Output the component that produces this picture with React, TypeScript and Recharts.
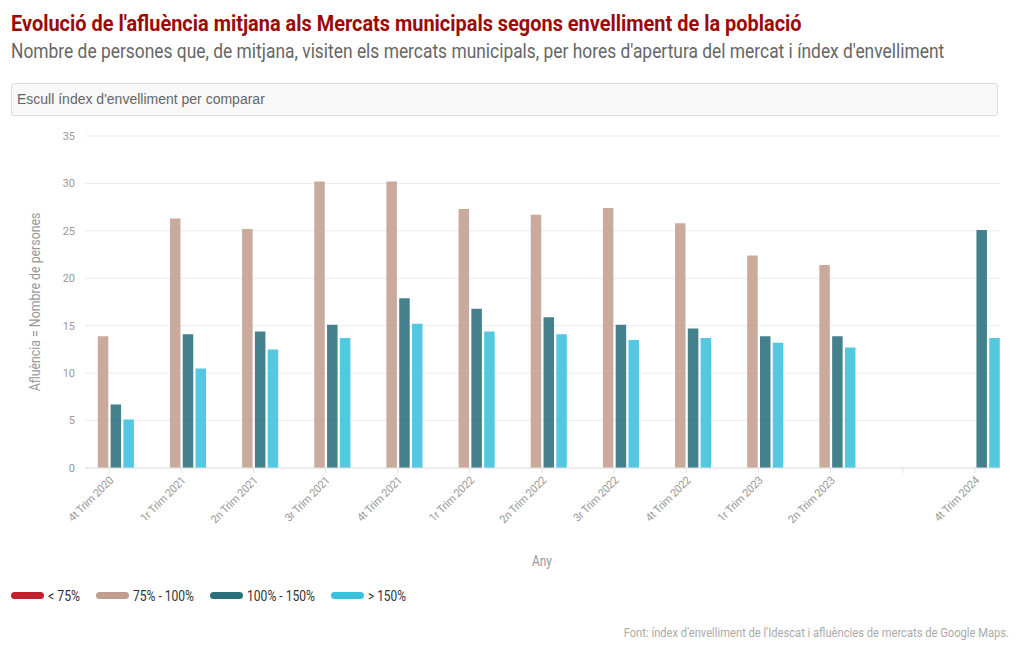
import { useLayoutEffect, useRef, useState } from 'react';
import { BarChart, Bar, XAxis, YAxis, CartesianGrid } from 'recharts';

const quarters = [
  '4t Trim 2020', '1r Trim 2021', '2n Trim 2021', '3r Trim 2021', '4t Trim 2021',
  '1r Trim 2022', '2n Trim 2022', '3r Trim 2022', '4t Trim 2022', '1r Trim 2023',
  '2n Trim 2023', '', '4t Trim 2024',
];
const below75: (number | null)[] = [null, null, null, null, null, null, null, null, null, null, null, null, null];
const from75to100: (number | null)[] = [13.9, 26.3, 25.2, 30.2, 30.2, 27.3, 26.7, 27.4, 25.8, 22.4, 21.4, null, null];
const from100to150: (number | null)[] = [6.7, 14.1, 14.4, 15.1, 17.9, 16.8, 15.9, 15.1, 14.7, 13.9, 13.9, null, 25.1];
const above150: (number | null)[] = [5.1, 10.5, 12.5, 13.7, 15.2, 14.4, 14.1, 13.5, 13.7, 13.2, 12.7, null, 13.7];
const yTicks = [0, 5, 10, 15, 20, 25, 30, 35];

const series = [
  { key: 'below75', name: '< 75%', color: '#c0212a', values: below75 },
  { key: 'from75to100', name: '75% - 100%', color: '#c19e8e', values: from75to100 },
  { key: 'from100to150', name: '100% - 150%', color: '#2b6f7d', values: from100to150 },
  { key: 'above150', name: '> 150%', color: '#3ac1dc', values: above150 },
];

const legendTextWidths = [32, 61, 68, 38];

const data = quarters.map((q, i) => {
  const row: Record<string, string | number | null> = { quarter: q };
  series.forEach((s) => (row[s.key] = s.values[i]));
  return row;
});

const font = 'Roboto, "Noto Sans", sans-serif';

// squeezes a text horizontally to a given width (the reference uses a condensed face)
const FitText = ({ x, y, width, rotate = 0, anchor = 'start', children, ...rest }: any) => {
  const ref = useRef<SVGTextElement>(null);
  const [k, setK] = useState(1);
  useLayoutEffect(() => {
    if (ref.current) {
      const len = ref.current.getComputedTextLength();
      if (len > 0) setK(width / len);
    }
  }, [width, children]);
  return (
    <text ref={ref} x={0} y={0} textAnchor={anchor} transform={`translate(${x},${y}) rotate(${rotate}) scale(${k},1)`} {...rest}>
      {children}
    </text>
  );
};

const XTick = (props: any) => {
  const { x, y, payload } = props;
  return (
    <g transform={`translate(${x + 5},${y + 6})`}>
      <text textAnchor="end" transform="rotate(-45)" fontSize={11} fill="#999" fontFamily={font} letterSpacing={-0.3}>
        {payload.value}
      </text>
    </g>
  );
};

export default function App() {
  let lx = 11;
  const legendItems = series.map((s, i) => {
    const x = lx;
    lx += 33 + 5 + legendTextWidths[i] + 15;
    return (
      <g key={s.key}>
        <rect x={x} y={592} width={33} height={7} rx={3.5} fill={s.color} />
        <FitText x={x + 37} y={601} width={legendTextWidths[i]} fontSize={14} fill="#333">
          {s.name}
        </FitText>
      </g>
    );
  });

  return (
    <div style={{ position: 'absolute', left: 0, top: 0, width: 1020, height: 650, background: '#fff', fontFamily: font }}>
      <div style={{ position: 'absolute', left: 11, top: 83, width: 985, height: 31, border: '1px solid #dcdcdc', borderRadius: 3, background: '#f8f8f8' }}>
        <span style={{ position: 'absolute', left: 5, top: 7, fontSize: 14, color: '#666', fontFamily: '"Liberation Sans", Arial, sans-serif' }}>
          Escull índex d'envelliment per comparar
        </span>
      </div>

      <div style={{ position: 'absolute', left: 0, top: 0 }}>
        <BarChart width={1020} height={650} data={data} margin={{ top: 136, right: 20, left: 45, bottom: 122 }} barSize={10.5} barGap={2.3}>
          <CartesianGrid vertical={false} stroke="#ececec" />
          <XAxis
            dataKey="quarter"
            height={60}
            padding={{ left: -12, right: -11 }}
            interval={0}
            stroke="#e3e3e3"
            tickSize={5}
            tick={<XTick />}
          />
          <YAxis
            width={40}
            domain={[0, 35]}
            ticks={yTicks}
            axisLine={false}
            tickLine={false}
            tickMargin={4}
            tick={{ fontSize: 11, fill: '#999', fontFamily: font }}
          />
          {series.map((s) => (
            <Bar key={s.key} dataKey={s.key} name={s.name} fill={s.color} fillOpacity={0.88} isAnimationActive={false} />
          ))}
        </BarChart>
      </div>

      <svg width={1020} height={650} style={{ position: 'absolute', left: 0, top: 0, pointerEvents: 'none' }} fontFamily={font}>
        <FitText x={11} y={31} width={791} fontSize={22} fontWeight="bold" fill="#990a0a">
          Evolució de l'afluència mitjana als Mercats municipals segons envelliment de la població
        </FitText>
        <FitText x={11} y={58} width={934} fontSize={20.5} fill="#666">
          Nombre de persones que, de mitjana, visiten els mercats municipals, per hores d'apertura del mercat i índex d'envelliment
        </FitText>
        <FitText x={40} y={302} rotate={-90} anchor="middle" width={179} fontSize={15} fill="#999">
          Afluència = Nombre de persones
        </FitText>
        <FitText x={532} y={566} width={20} fontSize={15} fill="#999">
          Any
        </FitText>
        {legendItems}
        <FitText x={1009} y={637} anchor="end" width={386} fontSize={13.5} fill="#aaa">
          Font: índex d'envelliment de l'Idescat i afluències de mercats de Google Maps.
        </FitText>
      </svg>
    </div>
  );
}
